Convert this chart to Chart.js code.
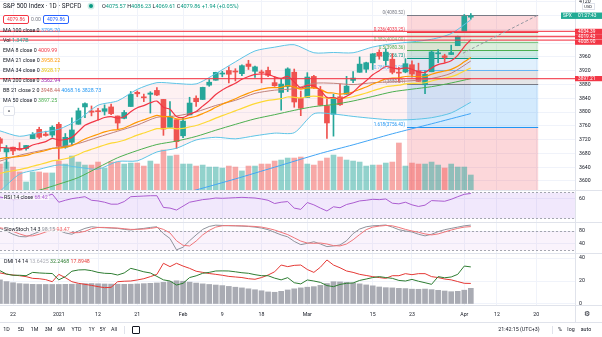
<!DOCTYPE html>
<html>
<head>
<meta charset="utf-8">
<script src="https://cdn.jsdelivr.net/npm/chart.js@4.4.1/dist/chart.umd.min.js"></script>
<style>
  html, body { margin: 0; padding: 0; background: #fff; }
  body { width: 602px; height: 337px; position: relative; overflow: hidden;
         font-family: Roboto, "Noto Sans", sans-serif; color: #131722; }
  canvas { position: absolute; left: 0; }
  .t { position: absolute; white-space: nowrap; line-height: 1; font-size: 5.3px; }
  .lg { background: rgba(255,255,255,0.75); padding: 0 1px; }
  .box { position: absolute; height: 7px; line-height: 7px; border: 1px solid; border-radius: 2px;
         font-size: 5px; text-align: center; background: #fff; }
  .tb { position: absolute; top: 327px; font-size: 5.3px; line-height: 1; transform: translateX(-50%); white-space: nowrap; }
</style>
</head>
<body>
<canvas id="main" width="602" height="190" style="top:0"></canvas>
<canvas id="rsi" width="602" height="32" style="top:190px"></canvas>
<canvas id="stoch" width="602" height="31" style="top:222px"></canvas>
<canvas id="dmi" width="602" height="69" style="top:253px"></canvas>

<!-- legend of the price pane -->
<div class="t" style="left:3px;top:3px;font-size:6.4px">S&amp;P 500 Index &middot; 1D &middot; SPCFD</div>
<div style="position:absolute;left:89px;top:4px;width:4px;height:4px;border-radius:50%;background:#089981;box-shadow:0 0 0 1.5px rgba(8,153,129,0.2)"></div>
<div class="t" style="left:102px;top:3.5px;font-size:5.5px;color:#089981"><span style="color:#131722">O</span>4075.57 <span style="color:#131722">H</span>4086.23 <span style="color:#131722">L</span>4069.61 <span style="color:#131722">C</span>4079.86 +1.94 (+0.05%)</div>
<div class="box" style="left:3px;top:15px;width:24px;border-color:#f23645;color:#f23645">4079.86</div>
<div class="t" style="left:31px;top:17px;font-size:5px;color:#787b86">0.00</div>
<div class="box" style="left:43px;top:15px;width:24px;border-color:#2962ff;color:#2962ff">4079.86</div>
<div class="t" style="left:3px;top:28px">MA 100 close 0 <span style="color:#42a5f5">3795.70</span></div>
<div class="t" style="left:3px;top:38px">Vol <span style="color:#26a69a">1.347B</span></div>
<div class="t" style="left:3px;top:48px">EMA 8 close 0 <span style="color:#f23645">4009.99</span></div>
<div class="t" style="left:3px;top:58px">EMA 21 close 0 <span style="color:#ff9800">3958.22</span></div>
<div class="t" style="left:3px;top:68px">EMA 34 close 0 <span style="color:#e8c200">3928.17</span></div>
<div class="t" style="left:3px;top:78px">MA 200 close 0 <span style="color:#9c27b0">3562.94</span></div>
<div class="t" style="left:3px;top:88px">BB 21 close 2 0 <span style="color:#c0605a">3948.44</span> <span style="color:#2196f3">4068.16</span> <span style="color:#2196f3">3828.73</span></div>
<div class="t" style="left:3px;top:98px">MA 50 close 0 <span style="color:#4caf50">3897.25</span></div>
<div style="position:absolute;left:3px;top:106px;width:10px;height:8px;border:1px solid #e0e3eb;border-radius:2px;background:#fff;font-size:6px;line-height:9px;text-align:center">^</div>

<!-- legends of the indicator panes -->
<div class="t lg" style="left:3px;top:194.5px">RSI 14 close <span style="color:#ab5cd0">68.42</span></div>
<div class="t lg" style="left:3px;top:226.5px">SlowStoch 14 3 <span style="color:#8f939c">98.15</span> <span style="color:#f0676b">93.47</span></div>
<div class="t lg" style="left:3px;top:258.5px">DMI 14 14 <span style="color:#a9abb3">13.6425</span> <span style="color:#2e7d32">32.2468</span> <span style="color:#e53935">17.8948</span></div>

<!-- time axis corner and bottom toolbar -->
<div class="t" style="left:584px;top:311px;font-size:7px;color:#131722">&#9881;</div>
<div style="position:absolute;left:0;top:322px;width:602px;height:1px;background:#e0e3eb"></div>
<div class="tb" style="left:6.5px">1D</div>
<div class="tb" style="left:21px">5D</div>
<div class="tb" style="left:34.5px">1M</div>
<div class="tb" style="left:48.5px">3M</div>
<div class="tb" style="left:61px">6M</div>
<div class="tb" style="left:76.5px">YTD</div>
<div class="tb" style="left:91.5px">1Y</div>
<div class="tb" style="left:102.5px">5Y</div>
<div class="tb" style="left:114px">All</div>
<div style="position:absolute;left:124px;top:326px;width:1px;height:8px;background:#e0e3eb"></div>
<div style="position:absolute;left:132px;top:326px;width:6px;height:6px;border:1px solid #131722;border-radius:1px"></div>
<div class="tb" style="left:519px">21:42:15 (UTC+3)</div>
<div style="position:absolute;left:552px;top:326px;width:1px;height:8px;background:#e0e3eb"></div>
<div class="tb" style="left:560px">%</div>
<div class="tb" style="left:571px">log</div>
<div class="tb" style="left:586px">auto</div>

<script>
// Daily bars from Dec 18 2020 (bar -2) to Apr 6 2021 (bar 70); bar 0 = Dec 22.
const firstBar = -2;

const opens = [3722.39, 3684.28,
  3698.08, 3693.42, 3694.03, 3723.03, 3750.01, 3736.19, 3733.27, 3764.61, 3698.02, 3712.20,
  3764.71, 3815.05, 3803.14, 3801.62, 3802.23, 3814.98, 3788.73, 3781.88, 3816.22, 3857.46,
  3844.24, 3851.68, 3862.96, 3836.83, 3755.75, 3778.05, 3731.17, 3791.84, 3840.27, 3836.66,
  3878.30, 3892.59, 3910.49, 3920.78, 3916.40, 3911.65, 3939.61, 3918.50, 3915.86, 3921.16,
  3885.55, 3857.07, 3873.71, 3915.80, 3839.66, 3842.51, 3903.64, 3863.99, 3818.53, 3793.58,
  3844.39, 3851.93, 3891.99, 3915.54, 3924.52, 3942.96, 3973.59, 3949.57, 3953.50, 3913.14,
  3916.48, 3937.60, 3919.93, 3879.34, 3917.12, 3969.31, 3963.34, 3967.25, 3992.78, 4034.44,
  4075.57];
const highs = [3726.70, 3702.90,
  3698.26, 3711.24, 3703.82, 3740.51, 3756.12, 3744.63, 3760.20, 3769.99, 3737.83, 3783.04,
  3811.55, 3826.69, 3817.86, 3810.78, 3820.96, 3823.60, 3788.73, 3804.53, 3859.75, 3861.45,
  3852.31, 3859.23, 3870.90, 3836.83, 3830.50, 3778.05, 3784.32, 3843.09, 3847.51, 3872.42,
  3894.56, 3915.77, 3918.35, 3931.50, 3925.99, 3937.23, 3950.43, 3933.61, 3921.98, 3930.41,
  3902.92, 3895.98, 3928.65, 3925.02, 3861.08, 3914.50, 3906.41, 3874.47, 3843.67, 3851.69,
  3881.06, 3903.76, 3917.35, 3960.27, 3944.99, 3970.08, 3981.04, 3983.87, 3969.62, 3930.12,
  3955.31, 3949.13, 3942.08, 3919.54, 3978.19, 3981.83, 3968.01, 3994.41, 4020.63, 4083.42,
  4086.23];
const lows = [3685.84, 3636.48,
  3676.16, 3689.28, 3689.32, 3723.03, 3723.31, 3730.21, 3726.88, 3662.71, 3695.07, 3705.34,
  3764.71, 3783.60, 3789.02, 3776.51, 3791.50, 3792.86, 3749.62, 3780.37, 3816.22, 3845.05,
  3830.41, 3797.16, 3847.78, 3732.48, 3755.75, 3694.12, 3725.62, 3791.84, 3816.68, 3836.66,
  3874.93, 3892.59, 3902.64, 3884.94, 3890.39, 3905.78, 3923.85, 3900.43, 3885.03, 3903.07,
  3874.71, 3805.59, 3859.60, 3814.04, 3789.54, 3842.51, 3868.57, 3818.86, 3723.34, 3730.19,
  3819.25, 3851.93, 3885.73, 3915.54, 3915.21, 3923.54, 3953.44, 3935.74, 3910.86, 3886.75,
  3914.16, 3901.78, 3889.07, 3853.50, 3917.12, 3943.25, 3944.35, 3966.98, 3992.78, 4034.44,
  4069.61];
const closes = [3709.41, 3694.92,
  3687.26, 3690.01, 3703.06, 3735.36, 3727.04, 3732.04, 3756.07, 3700.65, 3726.86, 3748.14,
  3803.79, 3824.68, 3799.61, 3801.19, 3809.84, 3795.54, 3768.25, 3798.91, 3851.85, 3853.07,
  3841.47, 3855.36, 3849.62, 3750.77, 3787.38, 3714.24, 3773.86, 3826.31, 3830.17, 3871.74,
  3886.83, 3915.59, 3911.23, 3909.88, 3916.38, 3934.83, 3932.59, 3931.33, 3913.97, 3906.71,
  3876.50, 3881.37, 3925.43, 3829.34, 3811.15, 3901.82, 3870.29, 3819.72, 3768.47, 3841.94,
  3821.35, 3875.44, 3898.81, 3939.34, 3943.34, 3968.94, 3962.71, 3974.12, 3915.46, 3913.10,
  3940.59, 3910.52, 3889.14, 3909.52, 3974.54, 3971.09, 3958.55, 3972.89, 4019.87, 4077.91,
  4079.86];
// volume, billions
const volumes = [2.33, 2.51,
  2.06, 1.62, 0.72, 1.62, 1.62, 1.53, 1.53, 2.60, 2.33, 3.05,
  2.51, 2.24, 2.24, 2.51, 1.97, 2.51, 2.51, 2.33, 2.42, 2.42,
  2.15, 2.60, 2.33, 3.59, 3.05, 3.14, 2.33, 2.33, 2.15, 2.24,
  2.06, 2.06, 1.97, 2.15, 2.06, 1.71, 2.15, 2.15, 2.33, 2.33,
  2.60, 2.69, 2.87, 2.87, 2.96, 2.33, 2.24, 2.60, 2.87, 3.14,
  2.96, 2.69, 2.60, 2.51, 2.15, 2.24, 2.24, 2.42, 2.51, 4.22,
  2.15, 2.42, 2.33, 2.33, 2.51, 2.24, 1.97, 2.33, 2.06, 2.06,
  1.347];

const ema8 = [3697.0, 3696.5,
  3694.4, 3693.4, 3695.6, 3704.4, 3709.4, 3714.4, 3723.7, 3718.6, 3720.4, 3726.6,
  3743.7, 3761.7, 3770.1, 3777.0, 3784.3, 3786.8, 3782.7, 3786.3, 3800.9, 3812.5,
  3818.9, 3827.0, 3832.0, 3814.0, 3808.1, 3787.2, 3784.3, 3793.6, 3801.7, 3817.3,
  3832.7, 3851.1, 3864.5, 3874.6, 3883.9, 3895.2, 3903.5, 3909.7, 3910.6, 3909.7,
  3902.3, 3897.7, 3903.8, 3887.3, 3870.4, 3877.4, 3875.8, 3863.3, 3842.2, 3842.2,
  3837.6, 3846.0, 3857.7, 3875.8, 3890.8, 3908.2, 3920.3, 3932.3, 3928.5, 3925.1,
  3928.5, 3924.5, 3916.7, 3915.1, 3928.3, 3937.8, 3942.4, 3949.2, 3964.9, 3990.0,
  4009.99];
const ema21 = [3665.0, 3667.7,
  3669.5, 3671.4, 3674.3, 3679.8, 3684.1, 3688.5, 3694.6, 3695.2, 3698.1, 3702.6,
  3711.8, 3722.1, 3729.1, 3735.7, 3742.4, 3747.2, 3749.2, 3753.7, 3762.6, 3770.8,
  3777.3, 3784.4, 3790.3, 3786.7, 3786.8, 3780.2, 3779.6, 3783.8, 3788.0, 3795.7,
  3803.9, 3814.1, 3822.9, 3830.8, 3838.6, 3847.4, 3855.1, 3862.1, 3866.8, 3870.4,
  3871.0, 3871.9, 3876.8, 3872.5, 3866.9, 3870.1, 3870.1, 3865.5, 3856.7, 3855.4,
  3852.3, 3854.4, 3858.4, 3865.8, 3872.8, 3881.6, 3888.9, 3896.7, 3898.4, 3899.7,
  3903.4, 3904.1, 3902.7, 3903.3, 3909.8, 3915.4, 3919.3, 3924.2, 3932.9, 3946.0,
  3958.22];
const ema34 = [3622.0, 3626.2,
  3629.7, 3633.1, 3637.1, 3642.7, 3647.5, 3652.4, 3658.3, 3660.7, 3664.5, 3669.3,
  3677.0, 3685.4, 3692.0, 3698.2, 3704.6, 3709.8, 3713.2, 3718.1, 3725.7, 3733.0,
  3739.2, 3745.8, 3751.8, 3751.7, 3753.7, 3751.5, 3752.8, 3757.0, 3761.1, 3767.5,
  3774.3, 3782.4, 3789.7, 3796.6, 3803.4, 3810.9, 3817.9, 3824.4, 3829.5, 3833.9,
  3836.3, 3838.9, 3843.8, 3843.0, 3841.2, 3844.7, 3846.1, 3844.6, 3840.3, 3840.4,
  3839.3, 3841.4, 3844.6, 3850.0, 3855.4, 3861.9, 3867.6, 3873.7, 3876.1, 3878.2,
  3881.8, 3883.4, 3883.8, 3885.2, 3890.3, 3895.0, 3898.6, 3902.8, 3909.5, 3919.2,
  3928.17];

// slower lines read at a subset of bars
const ma50Bars = [-2, 1, 4, 7, 10, 13, 16, 19, 22, 25, 28, 31, 34, 37, 40, 43, 46, 49, 52, 55, 58, 61, 64, 67, 70];
const ma50 = [3547.9, 3558.9, 3573.1, 3590.8, 3610.0, 3639.0, 3667.5, 3688.3, 3705.9, 3715.9, 3729.4, 3747.4,
  3764.4, 3780.4, 3792.5, 3805.1, 3815.9, 3822.0, 3832.3, 3845.4, 3858.8, 3866.6, 3873.8, 3884.6, 3897.25];
const ma100Bars = [14, 20, 28, 34, 40, 47, 52, 58, 64, 70];
const ma100 = [3500, 3535, 3574, 3606, 3640, 3680, 3705, 3737, 3766, 3795.70];
const bbBars = [-2, 1, 4, 7, 10, 13, 16, 19, 22, 25, 28, 31, 34, 37, 40, 43, 46, 49, 52, 55, 58, 61, 64, 67, 70];
const bbBasis = [3657.7, 3674.7, 3687.2, 3698.4, 3708.9, 3727.1, 3744.6, 3762.3, 3784.9, 3789.0, 3800.5, 3819.3,
  3834.2, 3854.4, 3863.7, 3867.9, 3883.7, 3883.7, 3879.9, 3885.3, 3887.9, 3891.1, 3897.6, 3912.8, 3948.44];
const bbUpper = [3745.5, 3729.7, 3740.6, 3750.2, 3778.1, 3819.9, 3832.6, 3866.1, 3885.5, 3883.0, 3881.9, 3911.7,
  3946.0, 3977.6, 3988.5, 3995.7, 3972.3, 3973.1, 3972.3, 3988.9, 3998.5, 4003.9, 4011.4, 4028.0, 4068.16];
const bbLower = [3569.9, 3619.7, 3633.8, 3646.6, 3639.7, 3634.3, 3656.6, 3658.5, 3684.3, 3695.0, 3719.1, 3726.9,
  3722.4, 3731.2, 3738.9, 3740.1, 3795.1, 3794.3, 3787.5, 3781.7, 3777.3, 3778.3, 3783.8, 3797.6, 3828.73];

const rsi = [63, 61,
  59, 59.5, 61, 65, 63, 64, 67.5, 55, 58, 60.5,
  62, 63.5, 58, 57, 55, 52, 52, 56, 63.5, 64,
  64.5, 65, 65, 47, 46, 43, 49, 55, 57, 59,
  60, 61.5, 61, 61.5, 62, 62.5, 62, 61.5, 60, 58,
  53, 55, 56, 46, 44, 54.5, 51, 46, 41.5, 48,
  46.5, 51.5, 54, 57, 58, 59.5, 59, 60, 53.5, 52.5,
  55, 51, 48.5, 50.5, 57.5, 57, 56.5, 59.5, 63.5, 67.2,
  68.42];
const stochK = [88, 80,
  70, 63, 62, 70, 78, 84, 90, 82, 74, 70,
  80, 88, 93, 91, 90, 89, 88, 85, 83, 86,
  88, 91, 93, 72, 57, 22, 30, 50, 68, 85,
  94, 98, 97, 96, 96, 95, 94, 92, 89, 84,
  76, 68, 62, 48, 38, 42, 47, 40, 32, 34,
  37, 50, 72, 86, 93, 96, 97, 98.5, 92, 84,
  80, 77, 70, 65, 70, 78, 84, 88, 92, 96,
  98.15];
const stochD = [90, 86,
  79, 71, 65, 65, 70, 77, 84, 85, 82, 75,
  75, 79, 87, 91, 91, 90, 89, 87, 85, 85,
  86, 88, 91, 85, 74, 50, 36, 34, 49, 68,
  82, 92, 96, 97, 96, 96, 95, 94, 92, 88,
  83, 76, 69, 59, 49, 43, 42, 43, 40, 35,
  34, 40, 53, 69, 84, 92, 95, 97, 96, 91,
  85, 80, 76, 71, 68, 71, 77, 83, 88, 92,
  93.47];
const diPlus = [29, 26,
  25, 25, 24.6, 27.5, 27, 26.7, 26.5, 21, 23.8, 28.5,
  29.6, 29.8, 29, 27.5, 26.7, 26.5, 25.2, 27, 31, 29.6,
  28, 27, 24, 21, 20, 16.5, 18, 23, 24.5, 26.7,
  27.5, 28.7, 28.8, 28.7, 28, 27.2, 26.7, 25.5, 24.6, 24.6,
  22.5, 21, 22.9, 18.5, 17.5, 20.9, 20, 18.8, 16, 15.1,
  17, 18, 18.3, 20.5, 21.7, 23, 23.8, 23, 22.3, 20.5,
  20, 21.4, 19.8, 18.5, 17.1, 23.8, 22.8, 23.5, 25.8, 33,
  32.25];
const diMinus = [27, 26,
  25.2, 24.6, 23.8, 22.3, 22, 21.2, 19.4, 25.8, 22.9, 19.4,
  18, 17.1, 16.2, 15.1, 14.2, 14.5, 19.4, 19.8, 20, 20.9,
  22, 23.8, 25.8, 35.4, 32.5, 35.4, 33, 31, 28.5, 27.5,
  26.5, 25.8, 25, 24, 23.5, 23, 22, 21.5, 23, 25.2,
  28, 33.9, 32.5, 33.6, 33.9, 30, 27.5, 32, 38.3, 33.9,
  31.5, 28.7, 27.5, 25.8, 24.8, 23.8, 23, 22.3, 24.6, 24.6,
  26.4, 25.5, 26.4, 26.4, 23.8, 23, 21.7, 21, 19.5, 18,
  17.89];
const adx = [21, 19.5,
  18.5, 17.7, 17.4, 17.1, 17, 17, 17, 17, 17.1, 17.2,
  17.4, 17.7, 17.8, 17.6, 17.4, 17.3, 17.2, 17.1, 17.2, 17.4,
  17.7, 18, 18.3, 18.8, 19.5, 20.2, 19.8, 19, 18.2, 17.5,
  17, 16.5, 16, 15.3, 14.6, 14, 13.2, 12.4, 11.5, 10.5,
  10.2, 11, 12.2, 13.2, 14, 14.6, 15.1, 16.2, 17.8, 19.4,
  19.2, 18.8, 18.2, 17.5, 16.6, 15.8, 14.8, 14.2, 14, 13.6,
  13.4, 12.9, 12.8, 13, 12.5, 11.9, 11.3, 10.7, 11, 12,
  13.64];

// drawings on the price pane
const hLinePrices = [4034.39, 4019.43, 4008.90, 3897.21];
const fibBars = [60.25, 80.3];
const fibPrices = [4080.52, 3880.21];
const fibLevels = [0, 0.236, 0.382, 0.5, 0.618, 0.786, 1, 1.618, 2.618];
const fibColors = ['#787b86', '#f23645', '#81c784', '#4caf50', '#089981', '#64b5f6', '#787b86', '#2196f3', '#f23645'];
const trendBars = [68.8, 80.3];
const trendPrices = [3971, 4082];

// axes
const viewBars = [-1.99, 85.93];
const timeTickBars = [0, 7, 13, 19, 26, 32, 38, 45, 55, 61, 69, 74, 80];
const timeTickLabels = ['22', '2021', '12', '21', 'Feb', '9', '18', 'Mar', '15', '23', 'Apr', '12', '20'];
const priceGrid = [3600, 3640, 3680, 3720, 3760, 3800, 3840, 3880, 3920, 3960, 4000, 4040, 4080, 4120];
const priceLabels = [3600, 3640, 3680, 3720, 3760, 3800, 3840, 3880, 3920, 3960, 4120];

const UP = '#26a69a', DOWN = '#ef5350', GRID = '#f0f3fa', LINE = '#e0e3eb';

Chart.defaults.font.family = 'Roboto, "Noto Sans", sans-serif';
Chart.defaults.font.size = 5;
Chart.defaults.color = '#131722';
Chart.defaults.animation = false;
Chart.defaults.responsive = false;
Chart.defaults.events = [];
Chart.defaults.plugins.legend.display = false;
Chart.defaults.plugins.tooltip.enabled = false;

const bars = closes.map((_, i) => firstBar + i);
const isUp = closes.map((c, i) => c >= opens[i]);
const perBar = arr => bars.map((x, i) => ({ x, y: arr[i] }));
const atBars = (xs, arr) => xs.map((x, i) => ({ x, y: arr[i] }));

function line(data, color, width, order, extra) {
  return Object.assign({ type: 'line', data, borderColor: color, borderWidth: width, pointRadius: 0,
    fill: false, tension: 0.25, order }, extra || {});
}

function timeAxis(showLabels) {
  return {
    type: 'linear', min: viewBars[0], max: viewBars[1], offset: false,
    grid: { color: GRID, drawTicks: false, offset: false },
    border: { display: false },
    ticks: { display: showLabels, autoSkip: false, maxRotation: 0, padding: 7, font: { size: 5.2 },
      callback: v => timeTickLabels[timeTickBars.indexOf(v)] },
    afterBuildTicks: s => { s.ticks = timeTickBars.map(v => ({ value: v })); },
    afterFit: s => { s.height = showLabels ? 17 : 0; s.paddingLeft = 0; s.paddingRight = 0; }
  };
}

function valueAxis(min, max, grid, labels) {
  return {
    type: 'linear', position: 'right', min, max,
    grid: { color: GRID, drawTicks: false },
    border: { display: true, color: LINE },
    ticks: { padding: 4, font: { size: 5.2 }, callback: v => labels.includes(v) ? String(v) : '' },
    afterBuildTicks: s => { s.ticks = grid.map(v => ({ value: v })); },
    afterFit: s => { s.width = 27; s.paddingTop = 0; s.paddingBottom = 0; }
  };
}

function alpha(hex, a) {
  const n = parseInt(hex.slice(1), 16);
  return `rgba(${n >> 16},${(n >> 8) & 255},${n & 255},${a})`;
}

const paneTop = {
  id: 'paneTop',
  afterDraw(chart) {
    const { ctx, width } = chart;
    ctx.save();
    ctx.fillStyle = LINE;
    ctx.fillRect(0, 0, width, 1);
    ctx.restore();
  }
};

function band(hi, lo, fill) {
  return {
    id: 'band',
    beforeDatasetsDraw(chart) {
      const { ctx, chartArea: a, scales: { y } } = chart;
      const yh = y.getPixelForValue(hi), yl = y.getPixelForValue(lo);
      ctx.save();
      ctx.fillStyle = fill;
      ctx.fillRect(a.left, yh, a.width, yl - yh);
      ctx.strokeStyle = '#a3a6af';
      ctx.lineWidth = 1;
      ctx.setLineDash([2, 2]);
      [yh, yl].forEach(v => {
        const p = Math.round(v) + 0.5;
        ctx.beginPath(); ctx.moveTo(a.left, p); ctx.lineTo(a.right, p); ctx.stroke();
      });
      ctx.restore();
    }
  };
}

// --- price pane ---
const priceDecor = {
  id: 'priceDecor',
  beforeDatasetsDraw(chart) {
    const { ctx, chartArea: a, scales: { x, y } } = chart;
    const x1 = x.getPixelForValue(fibBars[0]), x2 = x.getPixelForValue(fibBars[1]);
    const range = fibPrices[0] - fibPrices[1];
    const at = lv => fibPrices[0] - lv * range;
    ctx.save();
    ctx.beginPath(); ctx.rect(a.left, a.top, a.width, a.height); ctx.clip();
    for (let k = 1; k < fibLevels.length; k++) {
      const ya = y.getPixelForValue(at(fibLevels[k - 1])), yb = y.getPixelForValue(at(fibLevels[k]));
      ctx.fillStyle = alpha(fibColors[k], 0.2);
      ctx.fillRect(x1, ya, x2 - x1, yb - ya);
    }
    ctx.font = '4.6px Roboto';
    ctx.textAlign = 'right';
    ctx.textBaseline = 'bottom';
    fibLevels.forEach((lv, k) => {
      const yy = Math.round(y.getPixelForValue(at(lv))) + 0.5;
      ctx.strokeStyle = fibColors[k];
      ctx.lineWidth = 1;
      ctx.beginPath(); ctx.moveTo(x1, yy); ctx.lineTo(x2, yy); ctx.stroke();
      ctx.fillStyle = fibColors[k];
      ctx.fillText(`${lv}(${at(lv).toFixed(2)})`, x1 - 2, yy - 0.5);
    });
    ctx.restore();
  },
  afterDatasetsDraw(chart) {
    const { ctx, chartArea: a, scales: { x, y } } = chart;
    ctx.save();
    ctx.beginPath(); ctx.rect(a.left, a.top, a.width, a.height); ctx.clip();
    ctx.strokeStyle = 'rgba(242,54,69,0.85)';
    ctx.lineWidth = 1.4;
    hLinePrices.forEach(p => {
      const yy = y.getPixelForValue(p);
      ctx.beginPath(); ctx.moveTo(a.left, yy); ctx.lineTo(a.right, yy); ctx.stroke();
    });
    ctx.strokeStyle = '#9598a1';
    ctx.lineWidth = 1;
    ctx.setLineDash([3, 2]);
    ctx.beginPath();
    ctx.moveTo(x.getPixelForValue(trendBars[0]), y.getPixelForValue(trendPrices[0]));
    ctx.lineTo(x.getPixelForValue(trendBars[1]), y.getPixelForValue(trendPrices[1]));
    ctx.stroke();
    ctx.restore();
  },
  afterDraw(chart) {
    const { ctx, chartArea: a, scales: { y }, width } = chart;
    ctx.save();
    ctx.font = '4.8px Roboto';
    ctx.textBaseline = 'middle';
    // current price tag
    const cy = y.getPixelForValue(closes[closes.length - 1]);
    ctx.fillStyle = '#22ab94';
    ctx.fillRect(a.right - 14, cy - 3.2, width - a.right + 14, 6.4);
    ctx.fillStyle = '#fff';
    ctx.textAlign = 'left';
    ctx.fillText('SPX', a.right - 12, cy);
    ctx.fillText('01:27:43', a.right + 3, cy);
    // horizontal line tags, stacked so they do not overlap
    let prevBottom = -Infinity;
    hLinePrices.forEach(p => {
      let top = y.getPixelForValue(p) - 2.6;
      if (top < prevBottom + 0.2) top = prevBottom + 0.2;
      prevBottom = top + 5.2;
      ctx.fillStyle = '#f23645';
      ctx.fillRect(a.right, top, width - a.right, 5.2);
      ctx.fillStyle = '#fff';
      ctx.fillText(p.toFixed(2), a.right + 3, top + 2.7);
    });
    // currency box
    ctx.strokeStyle = LINE;
    ctx.lineWidth = 1;
    ctx.fillStyle = '#fff';
    ctx.fillRect(a.right + 7.5, 3.5, 12, 6);
    ctx.strokeRect(a.right + 7.5, 3.5, 12, 6);
    ctx.fillStyle = '#131722';
    ctx.font = '4px Roboto';
    ctx.fillText('USD', a.right + 9.3, 6.6);
    ctx.restore();
  }
};

new Chart(document.getElementById('main'), {
  type: 'bar',
  data: {
    datasets: [
      line(atBars(bbBars, bbUpper), '#5ec4e6', 1, 6, { fill: '+1', backgroundColor: 'rgba(242,54,69,0.07)' }),
      line(atBars(bbBars, bbLower), '#5ec4e6', 1, 6),
      line(atBars(bbBars, bbBasis), '#c0817b', 1, 6),
      line(atBars(ma100Bars, ma100), '#42a5f5', 1, 5),
      line(atBars(ma50Bars, ma50), '#4caf50', 1, 5),
      line(perBar(ema34), '#fdd835', 1.2, 4),
      line(perBar(ema21), '#ff9800', 1.2, 3),
      line(perBar(ema8), '#f23645', 1.2, 2),
      { type: 'bar', data: bars.map((x, i) => ({ x, y: [opens[i], closes[i]] })), grouped: false,
        barThickness: 5, minBarLength: 1, borderWidth: 0, order: 7,
        backgroundColor: isUp.map(u => u ? UP : DOWN) },
      { type: 'bar', data: bars.map((x, i) => ({ x, y: [lows[i], highs[i]] })), grouped: false,
        barThickness: 1, borderWidth: 0, order: 8,
        backgroundColor: isUp.map(u => u ? UP : DOWN) },
      { type: 'bar', data: perBar(volumes), yAxisID: 'yv', grouped: false,
        barThickness: 5, borderWidth: 0, order: 9,
        backgroundColor: isUp.map(u => u ? 'rgba(38,166,154,0.5)' : 'rgba(239,83,80,0.5)') }
    ]
  },
  options: {
    devicePixelRatio: 1,
    layout: { padding: 0 },
    plugins: { filler: { drawTime: 'beforeDatasetsDraw' } },
    scales: {
      x: timeAxis(false),
      y: valueAxis(3573.8, 4125.5, priceGrid, priceLabels),
      yv: { type: 'linear', display: false, min: 0, max: 17.06 }
    }
  },
  plugins: [priceDecor]
});

// --- RSI pane ---
new Chart(document.getElementById('rsi'), {
  type: 'line',
  data: { datasets: [line(perBar(rsi), '#ab5cd0', 1, 1, { tension: 0 })] },
  options: {
    devicePixelRatio: 1,
    layout: { padding: 0 },
    scales: { x: timeAxis(false), y: valueAxis(24.6, 73.8, [60], [60]) }
  },
  plugins: [band(70, 30, 'rgba(149,76,230,0.13)'), paneTop]
});

// --- Slow stochastic pane ---
new Chart(document.getElementById('stoch'), {
  type: 'line',
  data: { datasets: [
    line(perBar(stochK), '#8f939c', 1, 2, { tension: 0 }),
    line(perBar(stochD), '#f0767a', 1, 1, { tension: 0 })
  ] },
  options: {
    devicePixelRatio: 1,
    layout: { padding: 0 },
    scales: { x: timeAxis(false), y: valueAxis(12.3, 107.7, [80, 40], [80, 40]) }
  },
  plugins: [band(80, 20, 'rgba(200,120,220,0.09)'), paneTop]
});

// --- DMI pane with time axis ---
const dmiFrame = {
  id: 'dmiFrame',
  afterDraw(chart) {
    const { ctx, chartArea: a, width } = chart;
    ctx.save();
    ctx.fillStyle = LINE;
    ctx.fillRect(0, Math.round(a.bottom), width, 1);
    ctx.fillRect(a.right, a.bottom, 1, chart.height - a.bottom);
    ctx.restore();
  }
};

new Chart(document.getElementById('dmi'), {
  type: 'bar',
  data: { datasets: [
    line(perBar(diPlus), '#2e7d32', 1, 1, { tension: 0 }),
    line(perBar(diMinus), '#e53935', 1, 1, { tension: 0 }),
    { type: 'bar', data: perBar(adx), grouped: false, barThickness: 5, borderWidth: 0, order: 3,
      backgroundColor: '#a9abb3' }
  ] },
  options: {
    devicePixelRatio: 1,
    layout: { padding: 0 },
    scales: { x: timeAxis(true), y: valueAxis(-0.87, 44.35, [0, 20, 40], [0, 20, 40]) }
  },
  plugins: [paneTop, dmiFrame]
});
</script>
</body>
</html>
